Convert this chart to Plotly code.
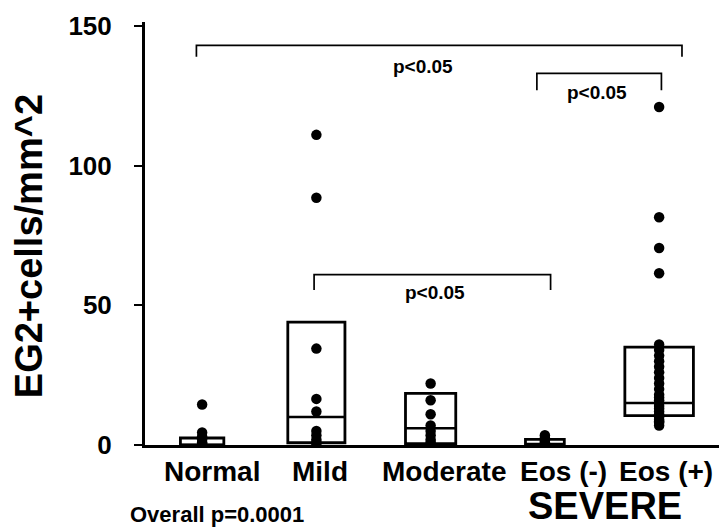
import plotly.graph_objects as go

# ---- data ----
groups = ["Normal", "Mild", "Moderate", "Eos (-)", "Eos (+)"]
normal_vals = [14.5, 4.5, 3, 2, 1, 0.5, 0]
mild_vals = [111, 88.5, 34.5, 16.5, 12, 5, 3.5, 2, 1, 0]
moderate_vals = [22, 16, 11, 7, 5, 3.5, 2, 1, 0]
eos_neg_vals = [3.5, 2.5, 1.5, 1]
eos_pos_vals = [121, 81.5, 70.5, 61.5, 36, 34, 32, 30, 28, 26, 24, 22, 20, 18,
                17, 16, 15, 14, 13, 12, 11, 10, 9, 8.5, 8, 7]
box_q1 = [0, 0.8, 0.5, 0.3, 10.5]
box_median = [0, 10, 6, 0.3, 15]
box_q3 = [2.5, 44, 18.5, 2, 35]
y_ticks = [0, 50, 100, 150]
p_label = "p<0.05"
overall_label = "Overall p=0.0001"
severe_label = "SEVERE"
y_title = "EG2+cells/mm^2"

# ---- style / layout config ----
box_half_width = [0.19, 0.25, 0.22, 0.17, 0.30]
label_shift = [10, 4, 13, 19, 7]
# brackets: (x_left, x_right, y_bar, y_leg_end, label_x, label_y)
brackets = [
    (-0.05, 4.20, 143, 139, 1.93, 135.5),
    (2.93, 4.02, 133, 127, 3.46, 126),
    (0.98, 3.05, 61, 55.5, 2.04, 54.5),
]
FONT = "Liberation Sans, Arial, Helvetica, sans-serif"

all_vals = [normal_vals, mild_vals, moderate_vals, eos_neg_vals, eos_pos_vals]

fig = go.Figure()
for i, vals in enumerate(all_vals):
    fig.add_trace(go.Scatter(
        x=[i] * len(vals), y=vals, mode="markers",
        marker=dict(size=10.5, color="black"),
        showlegend=False, hoverinfo="y"))

shapes = []
for i in range(len(groups)):
    w = box_half_width[i]
    shapes.append(dict(type="rect", xref="x", yref="y",
                       x0=i - w, x1=i + w, y0=box_q1[i], y1=box_q3[i],
                       line=dict(color="black", width=2.8), layer="below"))
    shapes.append(dict(type="line", xref="x", yref="y",
                       x0=i - w, x1=i + w, y0=box_median[i], y1=box_median[i],
                       line=dict(color="black", width=2.5), layer="below"))

annotations = []
for (xl, xr, yb, yl, lx, ly) in brackets:
    shapes.append(dict(type="path", xref="x", yref="y",
                       path=f"M {xl},{yl} L {xl},{yb} L {xr},{yb} L {xr},{yl}",
                       line=dict(color="black", width=1.7)))
    annotations.append(dict(x=lx, y=ly, xref="x", yref="y", text=p_label,
                            showarrow=False, xanchor="center", yanchor="middle",
                            font=dict(family=FONT, size=19, color="black", weight="bold")))

for i, g in enumerate(groups):
    annotations.append(dict(x=i, y=0, xref="x", yref="y", text=g, showarrow=False,
                            xanchor="center", yanchor="middle", xshift=label_shift[i],
                            yshift=-26,
                            font=dict(family=FONT, size=28, color="black", weight="bold")))

annotations.append(dict(x=0.13, y=0, xref="x", yref="y", text=overall_label,
                        showarrow=False, xanchor="center", yanchor="middle", yshift=-69,
                        font=dict(family=FONT, size=22, color="black", weight="bold")))
annotations.append(dict(x=3.53, y=0, xref="x", yref="y", text=severe_label,
                        showarrow=False, xanchor="center", yanchor="middle", yshift=-61,
                        font=dict(family=FONT, size=38, color="black", weight="bold")))
annotations.append(dict(x=-116 / 574, y=0.47, xref="paper", yref="paper", text=y_title,
                        showarrow=False, textangle=-90, xanchor="center", yanchor="middle",
                        font=dict(family=FONT, size=38, color="black", weight="bold")))

fig.update_layout(
    width=720, height=527,
    margin=dict(l=145, r=1, t=22, b=82, pad=0),
    plot_bgcolor="white", paper_bgcolor="white",
    shapes=shapes, annotations=annotations,
    xaxis=dict(range=[-0.5, 4.524], showgrid=False, zeroline=False,
               showline=True, linewidth=3, linecolor="black",
               showticklabels=False, ticks=""),
    yaxis=dict(range=[0, 151.4], showgrid=False, zeroline=False,
               showline=True, linewidth=3, linecolor="black",
               tickvals=y_ticks, ticks="outside", ticklen=8, tickwidth=2,
               tickcolor="black", ticklabelstandoff=17,
               tickfont=dict(family=FONT, size=26, color="black", weight="bold")),
)
fig.write_html("out.html")
